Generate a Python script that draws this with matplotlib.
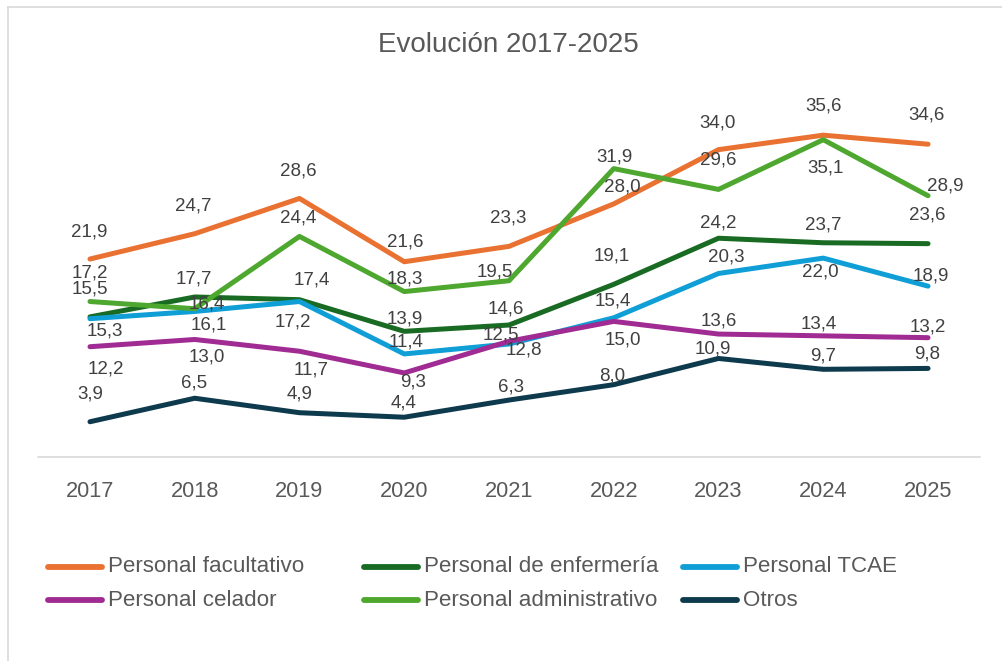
import matplotlib
matplotlib.use("Agg")
import matplotlib.pyplot as plt
from matplotlib.lines import Line2D

plt.rcParams['font.family'] = ['Liberation Sans', 'DejaVu Sans']

years = ["2017", "2018", "2019", "2020", "2021", "2022", "2023", "2024", "2025"]

series_names = ["Personal facultativo", "Personal de enfermería", "Personal TCAE",
                "Personal celador", "Personal administrativo", "Otros"]

facultativo = [21.9, 24.7, 28.6, 21.6, 23.3, 28.0, 34.0, 35.6, 34.6]
enfermeria = [15.5, 17.7, 17.4, 13.9, 14.6, 19.1, 24.2, 23.7, 23.6]
tcae = [15.3, 16.1, 17.2, 11.4, 12.5, 15.4, 20.3, 22.0, 18.9]
celador = [12.2, 13.0, 11.7, 9.3, 12.8, 15.0, 13.6, 13.4, 13.2]
administrativo = [17.2, 16.4, 24.4, 18.3, 19.5, 31.9, 29.6, 35.1, 28.9]
otros = [3.9, 6.5, 4.9, 4.4, 6.3, 8.0, 10.9, 9.7, 9.8]

values = [facultativo, enfermeria, tcae, celador, administrativo, otros]
colors = ["#E97132", "#196B24", "#0F9ED5", "#A02B93", "#4EA72E", "#0E3A4E"]

# label offsets in pixels (dx right, dy down as in the image)
label_offsets = [
    [(-1, -27), (-1, -28), (-1, -27), (1, -20), (-1, -28), (9, -17), (-1, -27), (0, -29), (-1, -29)],
    [(0, -28), (-1, -18), (12, -20), (1, -12), (-3, -16), (-2, -28), (0, -15), (0, -18), (-1, -29)],
    [(15, 12), (14, 14), (-7, 20), (2, -12), (-8, -9), (-1, -17), (8, -16), (-3, 14), (3, -10)],
    [(16, 22), (12, 18), (12, 19), (9, 9), (15, 9), (9, 19), (0, -13), (-5, -12), (0, -11)],
    [(0, -29), (12, -5), (-1, -18), (1, -13), (-14, -9), (1, -12), (0, -29), (2, 28), (17, -10)],
    [(0, -28), (-1, -15), (0, -19), (-1, -14), (2, -13), (-2, -9), (-6, -9), (0, -13), (-1, -14)],
]

W, H = 1003, 661
fig = plt.figure(figsize=(W / 100, H / 100), dpi=100)
fig.patch.set_facecolor("white")

ax = fig.add_axes([37.6 / W, (H - 457) / H, (980.4 - 37.6) / W, (457 - 95.4) / H])
ax.set_xlim(-0.5, len(years) - 0.5)
ax.set_ylim(0, 40)
x = list(range(len(years)))

draw_order = [5, 3, 2, 1, 4, 0]
for i in draw_order:
    ax.plot(x, values[i], color=colors[i], lw=3.6, solid_capstyle="round",
            solid_joinstyle="round", zorder=2 + i * 0.1)

for i in range(len(values)):
    for j, v in enumerate(values[i]):
        dx, dy = label_offsets[i][j]
        ax.annotate(f"{v:.1f}".replace(".", ","), (j, v), xytext=(dx, -dy),
                    textcoords="offset pixels", ha="center", va="center",
                    fontsize=13.5, color="#404040", zorder=5)

for s in ["left", "right", "top"]:
    ax.spines[s].set_visible(False)
ax.spines["bottom"].set_color("#D9D9D9")
ax.spines["bottom"].set_linewidth(1.2)
ax.set_yticks([])
ax.set_xticks(x)
ax.set_xticklabels(years, fontsize=15.7, color="#595959")
ax.tick_params(axis="x", length=0, pad=17)
ax.set_facecolor("none")

fig.text(508.5 / W, 1 - 45 / H, "Evolución 2017-2025", ha="center", va="center",
         fontsize=20, color="#595959")

# legend (Excel-style, equal column widths)
col_x = [48, 364, 683]
row_y = [567, 600]
legend_pos = [(0, 0), (0, 1), (0, 2), (1, 0), (1, 1), (1, 2)]
for i, name in enumerate(series_names):
    r, c = legend_pos[i]
    x0 = col_x[c]
    y0 = row_y[r]
    fig.add_artist(Line2D([(x0) / W, (x0 + 54) / W], [1 - y0 / H, 1 - y0 / H],
                          transform=fig.transFigure, color=colors[i], lw=4.2,
                          solid_capstyle="round"))
    fig.text((x0 + 60) / W, 1 - y0 / H, name, ha="left", va="center",
             fontsize=16.1, color="#595959")

# chart border (top and left visible)
fig.add_artist(Line2D([8 / W, 1.0], [1 - 7 / H, 1 - 7 / H], transform=fig.transFigure,
                      color="#D9D9D9", lw=1.2))
fig.add_artist(Line2D([8 / W, 8 / W], [0, 1 - 7 / H], transform=fig.transFigure,
                      color="#D9D9D9", lw=1.2))

fig.savefig("out.png", dpi=100)
